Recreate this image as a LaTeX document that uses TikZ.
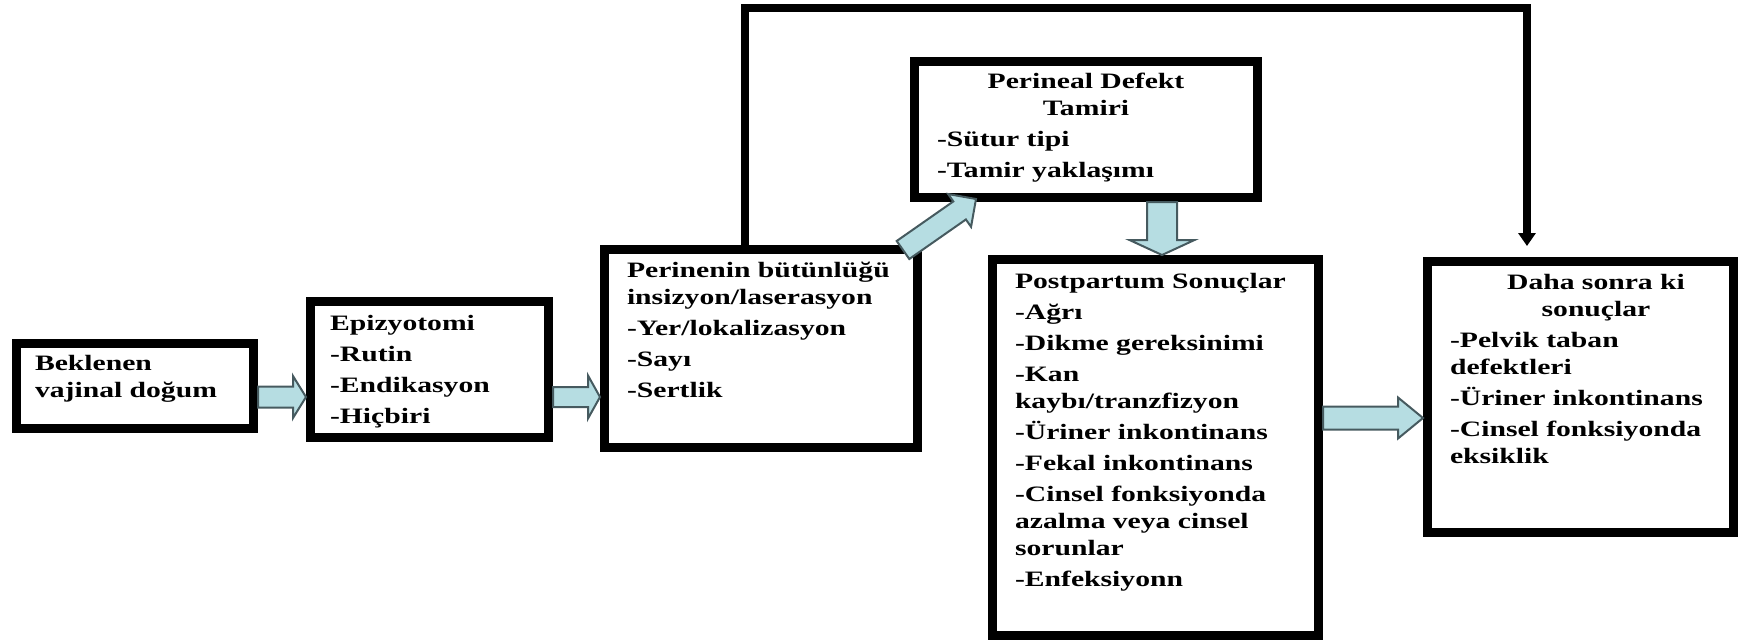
\documentclass[tikz,border=0pt]{standalone}
\usepackage{fontspec}
\setmainfont{Liberation Serif}[FakeStretch=1.35]
\usetikzlibrary{calc,arrows.meta}

\definecolor{arrowfill}{RGB}{182,221,226}
\definecolor{arrowline}{RGB}{70,90,95}

\tikzset{
  box/.style={draw, line width=0.18cm, inner sep=0pt, anchor=north west},
  txt/.style={anchor=base west, inner sep=0pt, outer sep=0pt, align=left,
    font=\fontsize{12.5}{15.4}\selectfont\bfseries},
  fat/.style={fill=arrowfill, draw=arrowline, line width=0.04cm, line join=miter},
  back/.style={line width=0.16cm, -{Triangle[width=0.34cm,length=0.26cm]}, shorten >=0.22cm}
}

% #1 tail, #2 tip, #3 half body, #4 half head, #5 head length
\newcommand{\fatarrow}[5]{%
  \coordinate (fat-h) at ($(#2)!#5!(#1)$);
  \draw[fat] ($(#1)!#3!90:(#2)$) -- ($(fat-h)!#3!90:(#2)$) -- ($(fat-h)!#4!90:(#2)$) -- (#2)
    -- ($(fat-h)!#4!-90:(#2)$) -- ($(fat-h)!#3!-90:(#2)$) -- ($(#1)!#3!-90:(#2)$) -- cycle;}

\begin{document}
\begin{tikzpicture}
\useasboundingbox (0,0) rectangle (34.8,-12.84);

% boxes
\node[box, minimum width=4.74cm, minimum height=1.70cm] (bek) at (0.24,-6.78) {};
\node[box, minimum width=4.76cm, minimum height=2.72cm] (epi) at (6.12,-5.94) {};
\node[box, minimum width=6.26cm, minimum height=3.96cm] (per) at (12.00,-4.90) {};
\node[box, minimum width=6.86cm, minimum height=2.72cm] (tam) at (18.20,-1.14) {};
\node[box, minimum width=6.52cm, minimum height=7.52cm] (pos) at (19.76,-5.10) {};
\node[box, minimum width=6.12cm, minimum height=5.42cm] (dah) at (28.46,-5.14) {};

% texts
\node[txt, text width=4.4cm] (bek-t) at (0.70,-7.40) {Beklenen\\vajinal doğum};
\node[txt, text width=4.2cm] (epi-t) at (6.60,-6.60)
  {Epizyotomi\\[2.3pt]-Rutin\\[2.3pt]-Endikasyon\\[2.3pt]-Hiçbiri};
\node[txt, text width=5.8cm] (per-t) at (12.54,-5.54)
  {Perinenin bütünlüğü\\insizyon/laserasyon\\[2.3pt]-Yer/lokalizasyon\\[2.3pt]-Sayı\\[2.3pt]-Sertlik};
\node[txt, text width=5.96cm] (tam-t) at (18.74,-1.76)
  {{\centering Perineal Defekt\\Tamiri\par}\vspace{2.3pt}-Sütur tipi\\[2.3pt]-Tamir yaklaşımı};
\node[txt, text width=6.0cm] (pos-t) at (20.30,-5.76)
  {Postpartum Sonuçlar\\[2.3pt]-Ağrı\\[2.3pt]-Dikme gereksinimi\\[2.3pt]-Kan\\kaybı/tranzfizyon\\[2.3pt]-Üriner inkontinans\\[2.3pt]-Fekal inkontinans\\[2.3pt]-Cinsel fonksiyonda\\azalma veya cinsel\\sorunlar\\[2.3pt]-Enfeksiyonn};
\node[txt, text width=5.84cm] (dah-t) at (29.00,-5.78)
  {{\centering Daha sonra ki\\sonuçlar\par}\vspace{2.3pt}-Pelvik taban\\defektleri\\[2.3pt]-Üriner inkontinans\\[2.3pt]-Cinsel fonksiyonda\\eksiklik};

% block arrows
\coordinate (a1s) at (bek.east |- 0,-7.94);
\coordinate (a1e) at (epi.west |- 0,-7.94);
\coordinate (a2s) at (epi.east |- 0,-7.94);
\coordinate (a2e) at (per.west |- 0,-7.94);
\coordinate (a3s) at (pos.east |- 0,-8.36);
\coordinate (a3e) at (dah.west |- 0,-8.36);
\coordinate (a4s) at (23.24,0 |- tam.south);
\coordinate (a4e) at (23.24,0 |- pos.north);
\coordinate (a5s) at ($(per.north east)+(-0.38,-0.10)$);
\coordinate (a5e) at ($(tam.south west)+(1.32,0.06)$);
\fatarrow{a1s}{a1e}{0.21cm}{0.42cm}{0.26cm}
\fatarrow{a2s}{a2e}{0.20cm}{0.43cm}{0.24cm}
\fatarrow{a3s}{a3e}{0.23cm}{0.41cm}{0.50cm}
\fatarrow{a4s}{a4e}{0.30cm}{0.65cm}{0.30cm}
\fatarrow{a5s}{a5e}{0.22cm}{0.40cm}{0.40cm}

% feedback line
\draw[back] (14.90,0 |- per.north) |- (30.54,-0.16) -- (30.54,0 |- dah.north);
\end{tikzpicture}
\end{document}
